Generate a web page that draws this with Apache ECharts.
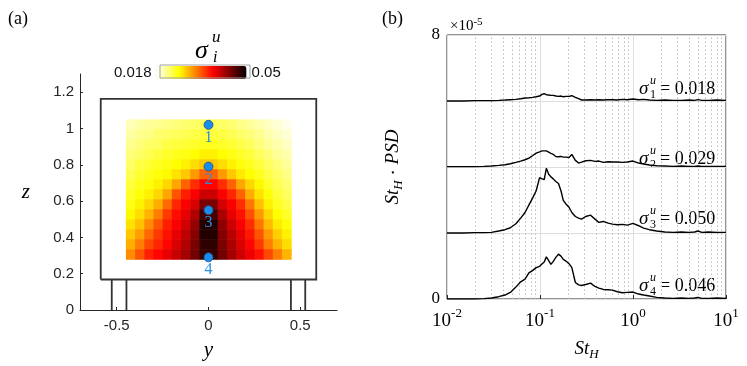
<!DOCTYPE html>
<html>
<head>
<meta charset="utf-8">
<script src="https://cdn.jsdelivr.net/npm/echarts@6/dist/echarts.min.js"></script>
<style>
html, body { margin: 0; padding: 0; background: #fff; }
#chart { width: 747px; height: 366px; }
</style>
</head>
<body>
<div id="chart"></div>
<script>
// ---------- panel (a): sigma_i^u map over the model section ----------
var heatX = [-0.425, -0.375, -0.325, -0.275, -0.225, -0.175, -0.125, -0.075, -0.025,
  0.025, 0.075, 0.125, 0.175, 0.225, 0.275, 0.325, 0.375, 0.425];
var heatZ = [1.0225, 0.9675, 0.9125, 0.8575, 0.8025, 0.7475, 0.6925,
  0.6375, 0.5825, 0.5275, 0.4725, 0.4175, 0.3625, 0.3075];
// sigma_i^u x 1e3, one row per heatZ (top to bottom), one column per heatX
var heatSigma = [
  [20.2, 20.9, 21.2, 21.5, 21.8, 22.2, 22.5, 22.8, 23.1, 23.1, 22.8, 22.5, 21.8, 21.2, 20.6, 19.9, 19.3, 18.6],
  [20.9, 21.5, 21.8, 22.5, 22.8, 23.1, 23.4, 23.8, 24.1, 24.1, 23.8, 23.4, 22.8, 22.2, 21.5, 20.6, 19.9, 19.3],
  [21.5, 22.2, 22.8, 23.1, 23.8, 24.1, 24.4, 24.7, 25.0, 25.0, 24.7, 24.4, 23.8, 23.1, 22.2, 21.2, 20.6, 19.9],
  [22.2, 22.8, 23.4, 24.1, 24.7, 25.0, 25.4, 26.0, 26.6, 26.6, 26.0, 25.4, 24.7, 24.1, 23.1, 22.2, 21.2, 20.6],
  [22.8, 23.8, 24.4, 25.0, 25.4, 26.0, 26.6, 27.6, 28.6, 28.6, 27.6, 26.6, 25.7, 25.0, 24.1, 23.1, 22.2, 21.2],
  [23.4, 24.4, 25.0, 25.7, 26.3, 27.3, 28.6, 30.8, 33.4, 33.4, 30.8, 28.6, 27.0, 26.0, 25.0, 23.8, 22.8, 21.8],
  [24.1, 25.0, 25.7, 26.6, 27.9, 30.2, 33.4, 35.9, 37.8, 37.8, 35.9, 33.4, 30.2, 27.9, 26.3, 24.7, 23.4, 22.5],
  [24.7, 25.7, 26.6, 27.9, 30.2, 34.0, 36.6, 38.2, 40.4, 40.4, 38.2, 36.2, 33.4, 29.8, 27.3, 25.7, 24.1, 23.1],
  [25.4, 26.6, 27.9, 29.8, 33.0, 36.2, 38.2, 39.8, 44.2, 44.2, 40.1, 38.2, 35.9, 32.4, 28.9, 26.6, 25.0, 23.8],
  [26.3, 27.6, 29.5, 32.1, 35.3, 37.5, 39.1, 41.7, 46.8, 46.8, 42.0, 39.1, 37.2, 34.3, 30.8, 27.9, 26.0, 24.7],
  [27.3, 28.9, 31.4, 34.0, 36.6, 38.2, 40.1, 43.0, 48.4, 48.4, 43.3, 40.4, 38.2, 35.9, 32.4, 29.2, 27.0, 25.7],
  [28.6, 30.5, 33.0, 35.3, 37.2, 39.1, 41.0, 43.6, 48.4, 48.4, 43.9, 41.4, 39.1, 36.9, 34.0, 30.8, 28.2, 26.6],
  [29.8, 32.1, 34.6, 36.2, 37.8, 39.8, 41.7, 44.2, 47.8, 47.8, 44.2, 42.0, 39.8, 37.8, 35.3, 32.1, 29.5, 27.6],
  [31.4, 34.0, 36.6, 37.8, 39.1, 40.7, 42.3, 44.6, 47.4, 47.4, 44.6, 42.3, 40.4, 38.8, 37.2, 34.6, 32.1, 29.5]
];
var cellW = 0.05, cellH = 0.055;
var probeY = [0, 0, 0, 0];
var probeZ = [1.02, 0.79, 0.55, 0.29];
var probeNames = ['1', '2', '3', '4'];
var modelBox = [[-0.587, 0.168], [0.587, 0.168], [0.587, 1.163], [-0.587, 1.163], [-0.587, 0.168]];
var legY = [-0.527, -0.447, 0.449, 0.527];
var legTop = 0.168;

// ---------- panel (b): St_H * PSD (x 1e-5), curves shifted by 2e-5 ----------
var stH = [0.01, 0.015, 0.02, 0.025, 0.03, 0.036, 0.042, 0.048, 0.055, 0.062, 0.069, 0.076,
  0.083, 0.091, 0.099, 0.105, 0.111, 0.117, 0.124, 0.131, 0.139, 0.148, 0.158, 0.168,
  0.178, 0.19, 0.205, 0.22, 0.24, 0.26, 0.28, 0.31, 0.35, 0.39, 0.43, 0.48, 0.54, 0.6,
  0.68, 0.77, 0.87, 1.0, 1.15, 1.3, 1.5, 1.8, 2.2, 2.7, 3.3, 4.0, 4.6, 5.0, 5.5, 6.5, 8.0, 10];
var psd1 = [0, 0, 0.01, 0.01, 0.01, 0.02, 0.03, 0.04, 0.05, 0.07, 0.09, 0.10,
  0.11, 0.13, 0.15, 0.20, 0.22, 0.19, 0.18, 0.17, 0.17, 0.15, 0.14, 0.15,
  0.13, 0.14, 0.14, 0.16, 0.11, 0.07, 0.03, 0.03, 0.04, 0.03, 0.04, 0.03, 0.04, 0.04,
  0.03, 0.05, 0.04, 0.06, 0.04, 0.05, 0.03, 0.02, 0.03, 0.02, 0.02, 0.03, 0.02, 0.04, 0.02, 0.02, 0.03, 0.02];
var psd2 = [0.01, 0.01, 0.01, 0.02, 0.03, 0.05, 0.07, 0.10, 0.14, 0.18, 0.22, 0.27,
  0.34, 0.42, 0.46, 0.49, 0.49, 0.49, 0.45, 0.41, 0.38, 0.32, 0.31, 0.32,
  0.30, 0.30, 0.29, 0.38, 0.20, 0.12, 0.15, 0.19, 0.20, 0.17, 0.18, 0.14, 0.16, 0.15,
  0.15, 0.14, 0.15, 0.18, 0.12, 0.09, 0.06, 0.04, 0.03, 0.02, 0.03, 0.02, 0.02, 0.03, 0.02, 0.02, 0.02, 0.02];
var psd3 = [0, 0, 0.01, 0.01, 0.02, 0.06, 0.10, 0.16, 0.28, 0.45, 0.62, 0.85,
  1.05, 1.28, 1.68, 1.64, 1.62, 1.96, 1.78, 1.70, 1.64, 1.56, 1.50, 1.28,
  0.99, 0.88, 0.78, 0.62, 0.50, 0.45, 0.42, 0.50, 0.54, 0.42, 0.32, 0.35, 0.30, 0.27,
  0.25, 0.26, 0.24, 0.29, 0.22, 0.15, 0.10, 0.06, 0.03, 0.02, 0.03, 0.02, 0.03, 0.06, 0.02, 0.03, 0.02, 0.02];
var psd4 = [0, 0, 0, 0.01, 0.03, 0.07, 0.12, 0.20, 0.36, 0.52, 0.60, 0.79,
  0.86, 0.95, 0.99, 1.06, 1.12, 1.28, 1.16, 1.05, 1.14, 1.26, 1.36, 1.30,
  1.20, 1.15, 1.07, 0.95, 0.50, 0.43, 0.41, 0.44, 0.48, 0.38, 0.33, 0.29, 0.28, 0.27,
  0.22, 0.19, 0.20, 0.21, 0.15, 0.12, 0.09, 0.05, 0.03, 0.02, 0.03, 0.02, 0.03, 0.05, 0.02, 0.02, 0.03, 0.02];
var curves = [psd1, psd2, psd3, psd4];
var curveOffset = [6, 4, 2, 0];
var sigmaValues = ['0.018', '0.029', '0.050', '0.046'];
var minorSt = [0.02, 0.03, 0.04, 0.05, 0.06, 0.07, 0.08, 0.09,
  0.2, 0.3, 0.4, 0.5, 0.6, 0.7, 0.8, 0.9, 2, 3, 4, 5, 6, 7, 8, 9];

var SERIF = 'Liberation Serif';
var SANS = 'Liberation Sans';
var INK = '#262626';

var heatData = [];
heatZ.forEach(function (z, r) {
  heatX.forEach(function (x, c) {
    heatData.push([x, z, heatSigma[r][c]]);
  });
});

function renderCell(params, api) {
  var c = api.coord([api.value(0), api.value(1)]);
  var s = api.size([cellW, cellH]);
  return {
    type: 'rect',
    shape: { x: c[0] - s[0] / 2, y: c[1] - s[1] / 2, width: s[0] + 0.6, height: s[1] + 0.6 },
    style: { fill: api.visual('color') }
  };
}

var modelLines = [{ coords: modelBox }];
legY.forEach(function (y) {
  modelLines.push({ coords: [[y, 0], [y, legTop]] });
});

// sigma^u_k = value, stacked super/subscript
function sigmaLabel(x, y, k, val) {
  return {
    type: 'group', x: x, y: y,
    children: [
      { type: 'text', x: 0, y: 0, style: { text: 'σ', fontFamily: SERIF, fontStyle: 'italic', fontSize: 19, fill: '#000', verticalAlign: 'middle' } },
      { type: 'text', x: 11, y: -8, style: { text: 'u', fontFamily: SERIF, fontStyle: 'italic', fontSize: 12, fill: '#000', verticalAlign: 'middle' } },
      { type: 'text', x: 11, y: 6, style: { text: String(k), fontFamily: SERIF, fontSize: 12, fill: '#000', verticalAlign: 'middle' } },
      { type: 'text', x: 21, y: 0, style: { text: '= ' + val, fontFamily: SERIF, fontSize: 18, fill: '#000', verticalAlign: 'middle' } }
    ]
  };
}

var sigmaY = [89, 159, 219, 286];
var graphics = [
  { type: 'text', x: 8, y: 19, style: { text: '(a)', fontFamily: SERIF, fontSize: 18, fill: '#000', verticalAlign: 'middle' } },
  { type: 'text', x: 382, y: 19, style: { text: '(b)', fontFamily: SERIF, fontSize: 18, fill: '#000', verticalAlign: 'middle' } },
  // colourbar title sigma_i^u
  { type: 'text', x: 195, y: 51, style: { text: 'σ', fontFamily: SERIF, fontStyle: 'italic', fontSize: 26, fill: '#000', verticalAlign: 'middle' } },
  { type: 'text', x: 212, y: 38, style: { text: 'u', fontFamily: SERIF, fontStyle: 'italic', fontSize: 17, fill: '#000', verticalAlign: 'middle' } },
  { type: 'text', x: 213, y: 58, style: { text: 'i', fontFamily: SERIF, fontStyle: 'italic', fontSize: 16, fill: '#000', verticalAlign: 'middle' } },
  { type: 'rect', shape: { x: 160, y: 65, width: 90, height: 13 }, style: { fill: 'none', stroke: '#a0a0a0', lineWidth: 1 }, z: 10 },
  // x10^-5 multiplier
  { type: 'text', x: 450, y: 25, style: { text: '{a|×10}{b|-5}', fill: '#000', verticalAlign: 'middle',
    rich: { a: { fontFamily: SERIF, fontSize: 15, lineHeight: 17, verticalAlign: 'bottom' }, b: { fontFamily: SERIF, fontSize: 11, lineHeight: 11, verticalAlign: 'top' } } } }
];
for (var k = 0; k < 4; k++) {
  graphics.push(sigmaLabel(639, sigmaY[k], k + 1, sigmaValues[k]));
}

var series = [
  {
    type: 'lines', coordinateSystem: 'cartesian2d', xAxisIndex: 0, yAxisIndex: 0,
    polyline: true, silent: true, z: 1,
    lineStyle: { color: '#333', width: 1.8, opacity: 1 },
    data: modelLines
  },
  {
    type: 'custom', xAxisIndex: 0, yAxisIndex: 0, z: 2, silent: true,
    renderItem: renderCell,
    encode: { x: 0, y: 1 },
    data: heatData
  },
  {
    type: 'scatter', xAxisIndex: 0, yAxisIndex: 0, z: 3,
    symbolSize: 9,
    itemStyle: { color: '#1a8ceb', borderColor: '#1c4f82', borderWidth: 0.8, opacity: 1 },
    label: {
      show: true, position: 'bottom', distance: 0,
      fontFamily: SERIF, fontSize: 16, color: '#2b8fe0',
      formatter: function (p) { return probeNames[p.dataIndex]; }
    },
    data: probeY.map(function (y, i) { return [y, probeZ[i]]; })
  }
];

curves.forEach(function (c, i) {
  var s = {
    type: 'line', xAxisIndex: 1, yAxisIndex: 1, showSymbol: false, z: 3,
    lineStyle: { color: '#000', width: 1.4 },
    data: stH.map(function (st, j) { return [st, curveOffset[i] + c[j]]; })
  };
  if (i === 0) {
    s.markLine = {
      silent: true, symbol: ['none', 'none'], label: { show: false },
      lineStyle: { type: [1.5, 2.5], color: '#bdbdbd', width: 1 },
      z: 1,
      data: minorSt.map(function (v) { return { xAxis: v }; })
    };
  }
  series.push(s);
});

var chart = echarts.init(document.getElementById('chart'));
chart.setOption({
  backgroundColor: '#fff',
  animation: false,
  grid: [
    { left: 80, top: 74, width: 257, height: 238 },
    { left: 447, top: 35, width: 279, height: 274, show: true, borderColor: INK, borderWidth: 1, backgroundColor: 'transparent' }
  ],
  xAxis: [
    {
      type: 'value', gridIndex: 0, min: -0.7, max: 0.7,
      name: 'y', nameLocation: 'middle', nameGap: 30,
      nameTextStyle: { fontFamily: SERIF, fontStyle: 'italic', fontSize: 21, color: '#000' },
      axisLine: { onZero: false, lineStyle: { color: INK, width: 1 } },
      axisTick: { inside: true, length: 3, customValues: [-0.5, 0, 0.5], lineStyle: { color: INK } },
      axisLabel: { customValues: [-0.5, 0, 0.5], fontFamily: SANS, fontSize: 15, color: INK, margin: 8 },
      splitLine: { show: false }
    },
    {
      type: 'log', gridIndex: 1, min: 0.01, max: 10, logBase: 10,
      name: '{i|St}{s|H}', nameLocation: 'middle', nameGap: 40,
      nameTextStyle: { rich: {
        i: { fontFamily: SERIF, fontStyle: 'italic', fontSize: 19, lineHeight: 22, verticalAlign: 'top', color: '#000' },
        s: { fontFamily: SERIF, fontStyle: 'italic', fontSize: 13, lineHeight: 14, verticalAlign: 'bottom', color: '#000' }
      } },
      axisLine: { show: false },
      axisTick: { inside: true, length: 4, lineStyle: { color: INK } },
      axisLabel: {
        margin: 8,
        formatter: function (v) { return '{b|10}{e|' + Math.round(Math.log10(v)) + '}'; },
        rich: {
          b: { fontFamily: SERIF, fontSize: 19, lineHeight: 24, verticalAlign: 'bottom', color: '#000' },
          e: { fontFamily: SERIF, fontSize: 13, lineHeight: 13, verticalAlign: 'top', color: '#000' }
        }
      },
      splitLine: { show: true, lineStyle: { color: '#dedede', width: 1 } }
    }
  ],
  yAxis: [
    {
      type: 'value', gridIndex: 0, min: 0, max: 1.3, interval: 0.2,
      name: 'z', nameLocation: 'middle', nameRotate: 0, nameGap: 50,
      nameTextStyle: { fontFamily: SERIF, fontStyle: 'italic', fontSize: 21, color: '#000' },
      axisLine: { show: true, onZero: false, lineStyle: { color: INK, width: 1 } },
      axisTick: { show: true, inside: true, length: 3, lineStyle: { color: INK } },
      axisLabel: { fontFamily: SANS, fontSize: 15, color: INK, margin: 6, showMaxLabel: false },
      splitLine: { show: false }
    },
    {
      type: 'value', gridIndex: 1, min: 0, max: 8, interval: 2,
      name: '{i|St}{s|H}{n| · }{i|PSD}', nameLocation: 'middle', nameRotate: 90, nameGap: 42,
      nameTextStyle: { rich: {
        i: { fontFamily: SERIF, fontStyle: 'italic', fontSize: 19, lineHeight: 22, verticalAlign: 'top', color: '#000' },
        s: { fontFamily: SERIF, fontStyle: 'italic', fontSize: 13, lineHeight: 14, verticalAlign: 'bottom', color: '#000' },
        n: { fontFamily: SERIF, fontSize: 19, lineHeight: 22, color: '#000' }
      } },
      axisLine: { show: false },
      axisTick: { show: false },
      axisLabel: {
        fontFamily: SERIF, fontSize: 17, color: '#000', margin: 7,
        formatter: function (v) { return (v === 0 || v === 8) ? String(v) : ''; }
      },
      splitLine: { show: true, lineStyle: { color: '#dedede', width: 1 } }
    }
  ],
  visualMap: {
    type: 'continuous', seriesIndex: 1, dimension: 2,
    min: 18, max: 50, calculable: false, realtime: false,
    orient: 'horizontal', left: 99, top: 50,
    itemWidth: 13, itemHeight: 90, textGap: 5,
    text: ['0.05', '0.018'],
    textStyle: { fontFamily: SANS, fontSize: 15, color: '#111' },
    inRange: { color: ['#ffffff', '#ffff80', '#ffff00', '#ffaa00', '#ff5500', '#ff0000', '#aa0000', '#550000', '#000000'] }
  },
  graphic: graphics,
  series: series
});
</script>
</body>
</html>
